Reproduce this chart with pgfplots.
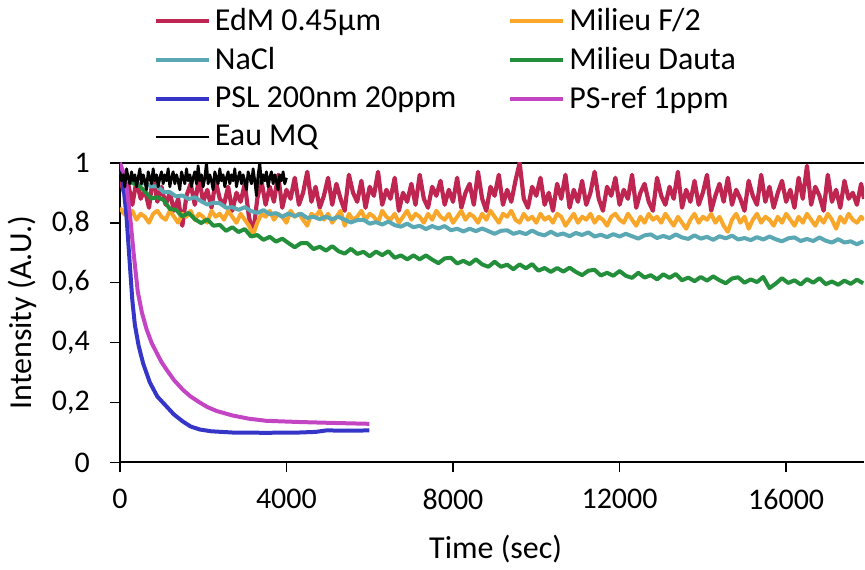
\documentclass[border=0pt]{standalone}
\usepackage{pgfplots}
\pgfplotsset{compat=1.18}
\usepackage{fontspec}
\setmainfont{Carlito}
\definecolor{cEdM}{RGB}{190,38,81}
\definecolor{cF2}{RGB}{249,167,43}
\definecolor{cNaCl}{RGB}{90,168,180}
\definecolor{cDauta}{RGB}{36,143,59}
\definecolor{cPSL}{RGB}{53,53,200}
\definecolor{cPSref}{RGB}{196,69,196}
\begin{document}
\begin{tikzpicture}[font=\fontsize{16}{19}\selectfont]
\begin{axis}[
  at={(0,0)}, anchor=south west,
  scale only axis, width=372.5pt, height=150pt,
  xmin=0, xmax=17870, ymin=0, ymax=1,
  axis x line=box, axis y line=left,
  axis line style={line width=1pt, -},
  xtick={0,4000,8000,12000,16000},
  ytick={0,0.2,0.4,0.6,0.8,1},
  xtick pos=bottom, ytick pos=left,
  tick align=outside, major tick length=5pt,
  tick style={line width=0.8pt, black},
  minor tick num=0,
  scaled ticks=false,
  /pgf/number format/.cd, use comma, 1000 sep={}, assume math mode=true,
  /pgfplots/.cd,
  tick label style={font=\fontsize{15}{18}\selectfont},
  yticklabel style={xshift=-6.5pt},
  xticklabel style={yshift=-5pt},
  xlabel={Time (sec)}, ylabel={Intensity (A.U.)},
  every axis x label/.style={at={(axis description cs:0.505,-0.29)}, anchor=center, font=\fontsize{16}{19}\selectfont},
  every axis y label/.style={at={(axis description cs:-0.131,0.5)}, rotate=90, anchor=center, font=\fontsize{16}{19}\selectfont},
  legend columns=2,
  legend cell align=left,
  legend image code/.code={\draw[#1] (0pt,0pt) -- (26.5pt,0pt);},
  legend style={at={(axis description cs:0.045,1.53)}, anchor=north west, draw=none, fill=none,
    inner sep=0pt, row sep=2.9pt, font=\fontsize{16}{19}\selectfont,
    nodes={inner sep=2pt},
    /tikz/every even column/.append style={column sep=24pt}},
  clip=true,
]
\addplot[color=cEdM, line width=2.1pt, line join=round] coordinates {
(0,.95)(100,.90)(200,.93)(300,.86)(400,.94)(500,.88)(600,.91)(700,.85)(800,.96)(900,.87)
(1000,.92)(1100,.86)(1200,.90)(1300,.84)(1400,.88)(1500,.79)(1600,.89)(1700,.93)(1800,.86)(1900,.95)
(2000,.87)(2100,.91)(2200,.85)(2300,.94)(2400,.88)(2500,.86)(2600,.92)(2700,.84)(2800,.90)(2900,.87)
(3000,.93)(3100,.82)(3200,.76)(3300,.88)(3400,.94)(3500,.86)(3600,.92)(3700,.87)(3800,.96)(3900,.85)
(4000,.91)(4100,.88)(4200,.95)(4300,.86)(4400,.90)(4500,.97)(4600,.87)(4700,.92)(4800,.85)(4900,.89)
(5000,.95)(5100,.86)(5200,.93)(5300,.88)(5400,.84)(5500,.96)(5600,.90)(5700,.87)(5800,.94)(5900,.85)
(6000,.92)(6100,.89)(6200,.97)(6300,.86)(6400,.91)(6500,.88)(6600,.95)(6700,.84)(6800,.90)(6900,.87)
(7000,.93)(7100,.86)(7200,.96)(7300,.88)(7400,.85)(7500,.92)(7600,.89)(7700,.94)(7800,.86)(7900,.91)
(8000,.87)(8100,.95)(8200,.85)(8300,.90)(8400,.93)(8500,.86)(8600,.97)(8700,.88)(8800,.84)(8900,.92)
(9000,.89)(9100,.96)(9200,.86)(9300,.91)(9400,.87)(9500,.94)(9600,1.00)(9700,.88)(9800,.85)(9900,.92)
(10000,.89)(10100,.95)(10200,.86)(10300,.90)(10400,.84)(10500,.93)(10600,.88)(10700,.96)(10800,.85)(10900,.91)
(11000,.87)(11100,.94)(11200,.86)(11300,.90)(11400,.97)(11500,.88)(11600,.84)(11700,.92)(11800,.89)(11900,.95)
(12000,.86)(12100,.91)(12200,.88)(12300,.96)(12400,.85)(12500,.90)(12600,.93)(12700,.87)(12800,.84)(12900,.95)
(13000,.89)(13100,.86)(13200,.92)(13300,.88)(13400,.97)(13500,.85)(13600,.91)(13700,.87)(13800,.94)(13900,.86)
(14000,.90)(14100,.96)(14200,.84)(14300,.89)(14400,.93)(14500,.87)(14600,.95)(14700,.86)(14800,.91)(14900,.88)
(15000,.84)(15100,.94)(15200,.89)(15300,.86)(15400,.96)(15500,.87)(15600,.92)(15700,.85)(15800,.90)(15900,.94)
(16000,.87)(16100,.91)(16200,.85)(16300,.95)(16400,.88)(16500,.99)(16600,.86)(16700,.92)(16800,.89)(16900,.84)
(17000,.96)(17100,.87)(17200,.91)(17300,.85)(17400,.94)(17500,.88)(17600,.90)(17700,.86)(17800,.93)(17870,.88)
};
\addlegendentry{EdM 0.45µm}
\addplot[color=cF2, line width=2pt, line join=round] coordinates {
(0,.85)(100,.83)(200,.82)(300,.84)(400,.81)(500,.83)(600,.82)(700,.80)(800,.83)(900,.84)
(1000,.82)(1100,.81)(1200,.84)(1300,.82)(1400,.80)(1500,.83)(1600,.82)(1700,.84)(1800,.81)(1900,.83)
(2000,.82)(2100,.80)(2200,.84)(2300,.82)(2400,.83)(2500,.81)(2600,.84)(2700,.82)(2800,.80)(2900,.83)
(3000,.81)(3100,.79)(3200,.76)(3300,.80)(3400,.83)(3500,.82)(3600,.84)(3700,.81)(3800,.83)(3900,.82)
(4000,.80)(4100,.84)(4200,.82)(4300,.83)(4400,.81)(4500,.79)(4600,.83)(4700,.82)(4800,.84)(4900,.81)
(5000,.83)(5100,.80)(5200,.82)(5300,.84)(5400,.79)(5500,.83)(5600,.81)(5700,.82)(5800,.84)(5900,.81)
(6000,.83)(6100,.82)(6200,.80)(6300,.84)(6400,.82)(6500,.81)(6600,.83)(6700,.80)(6800,.82)(6900,.84)
(7000,.81)(7100,.83)(7200,.82)(7300,.80)(7400,.83)(7500,.81)(7600,.84)(7700,.82)(7800,.81)(7900,.83)
(8000,.80)(8100,.82)(8200,.84)(8300,.81)(8400,.83)(8500,.82)(8600,.80)(8700,.83)(8800,.81)(8900,.84)
(9000,.82)(9100,.80)(9200,.83)(9300,.82)(9400,.84)(9500,.81)(9600,.80)(9700,.83)(9800,.81)(9900,.82)
(10000,.80)(10100,.83)(10200,.81)(10300,.82)(10400,.80)(10500,.83)(10600,.82)(10700,.79)(10800,.81)(10900,.83)
(11000,.80)(11100,.82)(11200,.81)(11300,.83)(11400,.80)(11500,.82)(11600,.81)(11700,.79)(11800,.82)(11900,.83)
(12000,.81)(12100,.80)(12200,.83)(12300,.81)(12400,.79)(12500,.82)(12600,.80)(12700,.83)(12800,.81)(12900,.82)
(13000,.80)(13100,.83)(13200,.81)(13300,.79)(13400,.82)(13500,.80)(13600,.78)(13700,.81)(13800,.83)(13900,.80)
(14000,.82)(14100,.81)(14200,.83)(14300,.80)(14400,.82)(14500,.79)(14600,.77)(14700,.81)(14800,.83)(14900,.80)
(15000,.82)(15100,.78)(15200,.81)(15300,.83)(15400,.80)(15500,.82)(15600,.81)(15700,.79)(15800,.82)(15900,.80)
(16000,.83)(16100,.81)(16200,.79)(16300,.82)(16400,.80)(16500,.83)(16600,.81)(16700,.79)(16800,.82)(16900,.80)
(17000,.83)(17100,.81)(17200,.78)(17300,.82)(17400,.80)(17500,.83)(17600,.81)(17700,.80)(17800,.82)(17870,.81)
};
\addlegendentry{Milieu F/2}
\addplot[color=cNaCl, line width=2pt, line join=round] coordinates {
(0,.970)(150,.954)(300,.947)(450,.928)(600,.933)(750,.921)(900,.922)(1050,.902)(1200,.902)(1350,.888)
(1500,.891)(1650,.879)(1800,.885)(1950,.872)(2100,.861)(2250,.867)(2400,.865)(2550,.850)(2700,.852)(2850,.843)
(3000,.852)(3150,.839)(3300,.833)(3450,.842)(3600,.829)(3750,.832)(3900,.820)(4050,.831)(4200,.822)(4350,.830)
(4500,.816)(4650,.820)(4800,.812)(4950,.820)(5100,.812)(5250,.820)(5400,.810)(5550,.801)(5700,.809)(5850,.810)
(6000,.797)(6150,.802)(6300,.794)(6450,.804)(6600,.792)(6750,.787)(6900,.797)(7050,.785)(7200,.790)(7350,.779)
(7500,.789)(7650,.781)(7800,.789)(7950,.775)(8100,.780)(8250,.771)(8400,.780)(8550,.772)(8700,.781)(8850,.772)
(9000,.763)(9150,.773)(9300,.775)(9450,.763)(9600,.769)(9750,.762)(9900,.774)(10050,.763)(10200,.758)(10350,.770)
(10500,.759)(10650,.764)(10800,.755)(10950,.766)(11100,.759)(11250,.768)(11400,.754)(11550,.760)(11700,.752)(11850,.762)
(12000,.754)(12150,.763)(12300,.755)(12450,.747)(12600,.758)(12750,.761)(12900,.749)(13050,.756)(13200,.749)(13350,.761)
(13500,.751)(13650,.746)(13800,.758)(13950,.747)(14100,.753)(14250,.743)(14400,.755)(14550,.748)(14700,.757)(14850,.744)
(15000,.749)(15150,.742)(15300,.752)(15450,.744)(15600,.754)(15750,.745)(15900,.738)(16050,.748)(16200,.751)(16350,.739)
(16500,.746)(16650,.739)(16800,.751)(16950,.740)(17100,.734)(17250,.745)(17400,.734)(17550,.738)(17700,.728)(17850,.738)
};
\addlegendentry{NaCl}
\addplot[color=cDauta, line width=2pt, line join=round] coordinates {
(0,.970)(150,.960)(300,.933)(450,.925)(600,.905)(750,.881)(900,.885)(1050,.876)(1200,.846)(1350,.843)
(1500,.821)(1650,.833)(1800,.812)(1950,.799)(2100,.811)(2250,.790)(2400,.793)(2550,.773)(2700,.785)(2850,.769)
(3000,.779)(3150,.754)(3300,.759)(3450,.743)(3600,.753)(3750,.737)(3900,.747)(4050,.732)(4200,.718)(4350,.732)
(4500,.732)(4650,.712)(4800,.720)(4950,.707)(5100,.722)(5250,.705)(5400,.697)(5550,.713)(5700,.696)(5850,.703)
(6000,.688)(6150,.704)(6300,.692)(6450,.705)(6600,.683)(6750,.691)(6900,.678)(7050,.691)(7200,.678)(7350,.691)
(7500,.677)(7650,.665)(7800,.681)(7950,.683)(8100,.664)(8250,.673)(8400,.662)(8550,.678)(8700,.661)(8850,.653)
(9000,.670)(9150,.653)(9300,.660)(9450,.645)(9600,.661)(9750,.648)(9900,.662)(10050,.640)(10200,.649)(10350,.636)
(10500,.649)(10650,.637)(10800,.650)(10950,.636)(11100,.625)(11250,.640)(11400,.643)(11550,.624)(11700,.633)(11850,.623)
(12000,.639)(12150,.623)(12300,.616)(12450,.633)(12600,.617)(12750,.625)(12900,.611)(13050,.628)(13200,.616)(13350,.629)
(13500,.608)(13650,.617)(13800,.605)(13950,.619)(14100,.607)(14250,.621)(14400,.608)(14550,.598)(14700,.614)(14850,.618)
(15000,.600)(15150,.611)(15300,.602)(15450,.619)(15600,.582)(15750,.597)(15900,.615)(16050,.599)(16200,.608)(16350,.594)
(16500,.612)(16650,.600)(16800,.615)(16950,.595)(17100,.604)(17250,.593)(17400,.607)(17550,.596)(17700,.610)(17850,.598)
};
\addlegendentry{Milieu Dauta}
\addplot[color=cPSL, line width=2pt, line join=round] coordinates {
(0,1.0)(80,0.93)(160,0.82)(240,0.66)(300,0.54)(360,0.46)(450,0.39)(560,0.33)(720,0.267)(900,0.22)
(1120,0.187)(1300,0.16)(1510,0.137)(1700,0.12)(1920,0.11)(2200,0.104)(2700,0.10)(3500,0.099)(4310,0.10)(4700,0.102)
(4960,0.107)(5500,0.106)(5990,0.107)
};
\addlegendentry{PSL 200nm 20ppm}
\addplot[color=cPSref, line width=2pt, line join=round] coordinates {
(0,1.0)(80,0.97)(160,0.92)(240,0.83)(330,0.70)(430,0.57)(530,0.50)(640,0.445)(760,0.40)(880,0.367)
(1000,0.335)(1120,0.31)(1300,0.275)(1510,0.243)(1700,0.22)(1920,0.20)(2100,0.185)(2320,0.172)(2700,0.157)(3100,0.146)
(3520,0.139)(4310,0.135)(5100,0.132)(5990,0.129)
};
\addlegendentry{PS-ref 1ppm}
\addplot[color=black, line width=1.4pt, line join=round] coordinates {
(0,.97)(40,.94)(80,.96)(120,.92)(160,.98)(200,.95)(240,.93)(280,.97)(320,.94)(360,.96)
(400,.92)(440,.95)(480,.98)(520,.93)(560,.96)(600,.94)(640,.91)(680,.97)(720,.95)(760,.93)
(800,.98)(840,.94)(880,.96)(920,.92)(960,.95)(1000,.97)(1040,.93)(1080,.96)(1120,.94)(1160,.98)
(1200,.92)(1240,.95)(1280,.97)(1320,.93)(1360,.96)(1400,.94)(1440,.91)(1480,.97)(1520,.95)(1560,.93)
(1600,.98)(1640,.94)(1680,.96)(1720,.92)(1760,.95)(1800,.97)(1840,.93)(1880,.99)(1920,.94)(1960,.96)
(2000,.92)(2040,.95)(2080,1.00)(2120,.93)(2160,.96)(2200,.94)(2240,.91)(2280,.97)(2320,.95)(2360,.93)
(2400,.98)(2440,.94)(2480,.96)(2520,.92)(2560,.95)(2600,.97)(2640,.93)(2680,.96)(2720,.94)(2760,.98)
(2800,.92)(2840,.95)(2880,.97)(2920,.93)(2960,.96)(3000,.94)(3040,.91)(3080,.97)(3120,.95)(3160,.93)
(3200,.98)(3240,.94)(3280,.89)(3320,.96)(3360,1.00)(3400,.93)(3440,.96)(3480,.94)(3520,.97)(3560,.92)
(3600,.95)(3640,.97)(3680,.93)(3720,.96)(3760,.94)(3800,.91)(3840,.96)(3880,.94)(3920,.97)(3960,.93)
(4000,.95)
};
\addlegendentry{Eau MQ}
\end{axis}
\path[use as bounding box] (-60pt,-50pt) rectangle (372.5pt,231.5pt);
\end{tikzpicture}
\end{document}
